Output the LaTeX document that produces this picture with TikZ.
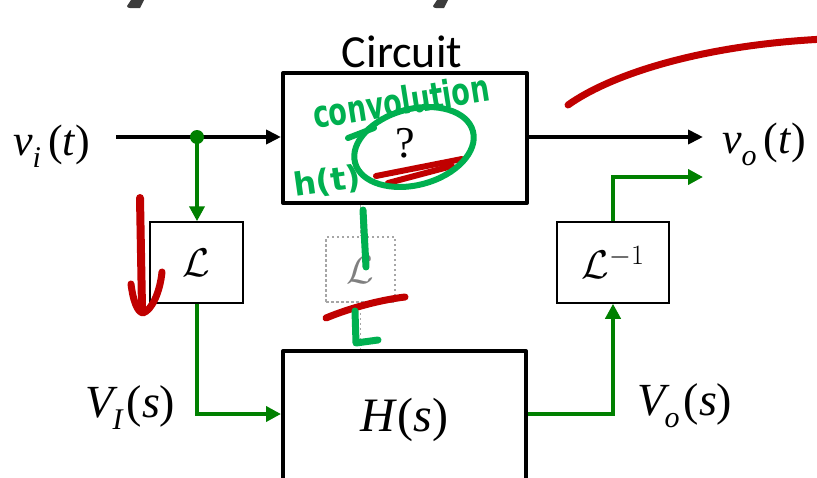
\RequirePackage{fix-cm}
\documentclass[tikz,border=0pt]{standalone}
\usepackage{fontspec}
\setmainfont{Liberation Serif}
\newfontfamily\seriffont{Liberation Serif}
\newfontfamily\circfont{Carlito}
\newfontfamily\handfont{DejaVu Sans}
\usetikzlibrary{arrows.meta}
\definecolor{dgreen}{RGB}{0,128,0}
\definecolor{gink}{RGB}{0,176,80}
\definecolor{redink}{RGB}{192,0,0}
\definecolor{dotgray}{RGB}{166,166,166}
\definecolor{fraggray}{RGB}{60,60,60}
\newcommand\lowsub[1]{\raisebox{-0.28em}{\seriffont\fontsize{30}{30}\selectfont\itshape #1}}
\tikzset{
  thickbox/.style={draw=black, line width=4pt, line join=round, inner sep=0pt, fill=white},
  thinbox/.style={draw=black, line width=1.5pt, inner sep=0pt, fill=white, font=\fontsize{40}{40}\selectfont},
  dotbox/.style={draw=dotgray, line width=1.5pt, dash pattern=on 2.5pt off 2.5pt, inner sep=0pt, text=gray, font=\fontsize{40}{40}\selectfont},
  blkline/.style={draw=black, line width=4pt, -{Triangle[length=15pt,width=14pt]}},
  grnline/.style={draw=dgreen, line width=4pt, -{Triangle[length=15pt,width=15pt]}},
  gdots/.style={draw=dotgray, line width=1.5pt, dash pattern=on 2.5pt off 2.5pt},
  lbl/.style={inner sep=0pt, anchor=base west, font=\seriffont\fontsize{44}{44}\selectfont},
  inkg/.style={draw=gink, line width=6pt, line cap=round, line join=round},
  inkr/.style={draw=redink, line width=7pt, line cap=round, line join=round},
  handtext/.style={inner sep=0pt, text=gink, font=\handfont\bfseries\fontsize{27}{27}\selectfont}
}
\begin{document}
\begin{tikzpicture}[x=1pt,y=-1pt]
\useasboundingbox (0,0) rectangle (817,477);
\clip (0,0) rectangle (817,477);
% blocks
\node[thickbox, minimum width=244pt, minimum height=130pt] (circ) at (405,138) {};
\node[inner sep=0pt, anchor=base, font=\circfont\fontsize{46}{46}\selectfont] (title) at (402,67) {Circuit};
\node[inner sep=0pt, font=\seriffont\fontsize{44}{44}\selectfont] (q) at (405,143) {?};
\node[thickbox, minimum width=243pt, minimum height=138pt, font=\seriffont\fontsize{48}{48}\selectfont] (hbox) at (404.5,420) {\textit{H}(\textit{s})};
\node[thinbox, minimum width=93pt, minimum height=81pt] (lap) at (196.5,262.5) {$\mathcal{L}$};
\node[thinbox, minimum width=112pt, minimum height=81pt] (ilap) at (613,262.5) {$\mathcal{L}^{-1}$};
\node[dotbox, minimum width=69pt, minimum height=65pt] (dlap) at (360.5,269.5) {$\mathcal{L}$};
% coordinates
\coordinate (vin) at (116,137);
\coordinate (tap) at (197,137);
\coordinate (vout) at (703,137);
\coordinate (vout2) at (703,177);
% connectors
\draw[blkline] (vin) -- (circ.west |- vin);
\draw[blkline] (circ.east |- vin) -- (vout);
\draw[grnline] (tap) -- (tap |- lap.north);
\fill[dgreen] (tap) circle (7pt);
\draw[grnline] (lap.south) |- ([yshift=6pt]hbox.west);
\draw[grnline] ([yshift=6pt]hbox.east) -| (ilap.south);
\draw[grnline] (ilap.north) |- (vout2);
\draw[gdots] (circ.south -| dlap.north) -- (dlap.north);
\draw[gdots] (dlap.south) -- (hbox.north -| dlap.south);
% labels
\node[lbl] (vi) at (13,155) {\textit{v}\lowsub{i}\kern7pt(\textit{t})};
\node[lbl] (vo) at (722,153) {\textit{v}\lowsub{o}\kern7pt(\textit{t})};
\node[lbl, font=\seriffont\fontsize{46}{46}\selectfont] (VI) at (85,417) {\textit{V}\kern-5pt\lowsub{I}\kern4pt(\textit{s})};
\node[lbl, font=\seriffont\fontsize{46}{46}\selectfont] (Vo) at (637,415) {\textit{V}\kern-5pt\lowsub{o}\kern4pt(\textit{s})};
% cut-off fragments at top edge
\fill[fraggray] (127,6) to[out=-90,in=180] (130,8) -- (140,8) -- (144,0) -- (131,0) -- cycle;
\fill[fraggray] (433,6) to[out=-90,in=180] (436,8) -- (444,8) -- (448,0) -- (437,0) -- cycle;
% red ink
\draw[inkr] (568,105) .. controls (610,75) and (700,45) .. (825,39);
\draw[inkr, line width=6pt] (376,176) -- (462,159);
\draw[inkr, line width=6pt] (388,183) -- (452,166);
\draw[inkr] (326,318) .. controls (350,308) and (380,300) .. (405,297);
\draw[inkr, line width=8pt] (140,198) -- (142,308);
\draw[inkr, line width=7pt] (131,284) .. controls (133,300) and (137,312) .. (143,313) .. controls (152,310) and (160,292) .. (162,272);
% green ink
\draw[inkg] (414,147) ellipse [x radius=61pt, y radius=38pt, rotate=15];
\draw[inkg] (348,138) -- (374,128);
\node[handtext, rotate=9] (conv) at (401,101) {\scalebox{1}[1.4]{convolution}};
\node[handtext, rotate=8, font=\handfont\bfseries\fontsize{32}{32}\selectfont] (ht) at (327,182) {h(t)};
\draw[inkg, line width=7pt] (363,210) -- (366,267);
\draw[inkg, line width=7pt] (355,311) -- (356,343) -- (378,340);
\end{tikzpicture}
\end{document}
